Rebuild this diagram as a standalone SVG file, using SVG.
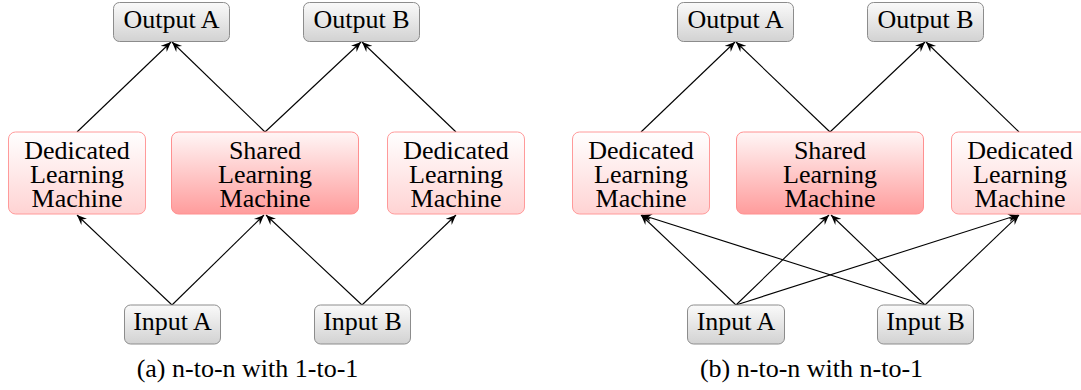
<svg xmlns="http://www.w3.org/2000/svg" width="1081" height="390" viewBox="0 0 1081 390">
  <defs>
    <linearGradient id="gGray" x1="0" y1="0" x2="0" y2="1">
      <stop offset="0" stop-color="#fafafa"/>
      <stop offset="1" stop-color="#d2d2d2"/>
    </linearGradient>
    <linearGradient id="gDed" x1="0" y1="0" x2="0" y2="1">
      <stop offset="0" stop-color="#ffffff"/>
      <stop offset="1" stop-color="#ffd3d3"/>
    </linearGradient>
    <linearGradient id="gShared" x1="0" y1="0" x2="0" y2="1">
      <stop offset="0" stop-color="#fff6f6"/>
      <stop offset="1" stop-color="#ff9c9c"/>
    </linearGradient>
    <marker id="arrow" viewBox="-10 -5 11 10" refX="0" refY="0" markerWidth="11" markerHeight="10" markerUnits="userSpaceOnUse" orient="auto">
      <path d="M0,0 L-10,-4.2 L-6.5,0 L-10,4.2 Z" fill="#000"/>
    </marker>
  </defs>
  <style>
    .io { fill: url(#gGray); stroke: #8c8c8c; stroke-width: 1; }
    .ded { fill: url(#gDed); stroke: #ff9a9a; stroke-width: 1; }
    .sh { fill: url(#gShared); stroke: #ff9090; stroke-width: 1; }
    .t { font-family: "Liberation Serif", "Times New Roman", Times, Tinos, "Noto Serif", "DejaVu Serif", FreeSerif, "Nimbus Roman", serif; font-size: 26px; fill: #000; text-anchor: middle; }
    .edge { stroke: #000; stroke-width: 1.1; fill: none; marker-end: url(#arrow); }
  </style>

  <!-- Panel (a): n-to-n with 1-to-1 -->
  <g id="a-connectors">
    <line class="edge" x1="77" y1="132" x2="171" y2="42"/>
    <line class="edge" x1="265" y1="132" x2="172" y2="42"/>
    <line class="edge" x1="265" y1="132" x2="361" y2="42"/>
    <line class="edge" x1="456" y1="132" x2="362" y2="42"/>
    <line class="edge" x1="172" y1="305" x2="77" y2="215"/>
    <line class="edge" x1="172" y1="305" x2="264" y2="215"/>
    <line class="edge" x1="362" y1="305" x2="266" y2="215"/>
    <line class="edge" x1="362" y1="305" x2="456" y2="215"/>
  </g>
  <g id="a-output-a">
    <rect class="io" x="113.5" y="2.5" width="116" height="39" rx="6"/>
    <text class="t" x="171.5" y="28">Output A</text>
  </g>
  <g id="a-output-b">
    <rect class="io" x="303.5" y="2.5" width="116" height="39" rx="6"/>
    <text class="t" x="361.5" y="28">Output B</text>
  </g>
  <g id="a-dedicated-left">
    <rect class="ded" x="8.5" y="132" width="137" height="82" rx="7"/>
    <text class="t" x="77" y="159">Dedicated</text>
    <text class="t" x="77" y="183">Learning</text>
    <text class="t" x="77" y="207">Machine</text>
  </g>
  <g id="a-shared">
    <rect class="sh" x="171.5" y="132" width="187" height="82" rx="7"/>
    <text class="t" x="265" y="159">Shared</text>
    <text class="t" x="265" y="183">Learning</text>
    <text class="t" x="265" y="207">Machine</text>
  </g>
  <g id="a-dedicated-right">
    <rect class="ded" x="387.5" y="132" width="137" height="82" rx="7"/>
    <text class="t" x="456" y="159">Dedicated</text>
    <text class="t" x="456" y="183">Learning</text>
    <text class="t" x="456" y="207">Machine</text>
  </g>
  <g id="a-input-a">
    <rect class="io" x="124.5" y="305" width="96" height="39" rx="6"/>
    <text class="t" x="172.5" y="330">Input A</text>
  </g>
  <g id="a-input-b">
    <rect class="io" x="314.5" y="305" width="96" height="39" rx="6"/>
    <text class="t" x="362.5" y="330">Input B</text>
  </g>
  <text class="t" id="a-caption" x="247.5" y="377">(a) n-to-n with 1-to-1</text>

  <!-- Panel (b): n-to-n with n-to-1 -->
  <g id="b-connectors">
    <line class="edge" x1="641" y1="132" x2="735" y2="42"/>
    <line class="edge" x1="830" y1="132" x2="736" y2="42"/>
    <line class="edge" x1="830" y1="132" x2="925" y2="42"/>
    <line class="edge" x1="1019" y1="132" x2="926" y2="42"/>
    <line class="edge" x1="736" y1="305" x2="641" y2="215"/>
    <line class="edge" x1="736" y1="305" x2="829" y2="215"/>
    <line class="edge" x1="736" y1="305" x2="1018" y2="215"/>
    <line class="edge" x1="925" y1="305" x2="642" y2="215"/>
    <line class="edge" x1="925" y1="305" x2="831" y2="215"/>
    <line class="edge" x1="925" y1="305" x2="1019" y2="215"/>
  </g>
  <g id="b-output-a">
    <rect class="io" x="677.5" y="2.5" width="116" height="39" rx="6"/>
    <text class="t" x="735.5" y="28">Output A</text>
  </g>
  <g id="b-output-b">
    <rect class="io" x="867.5" y="2.5" width="116" height="39" rx="6"/>
    <text class="t" x="925.5" y="28">Output B</text>
  </g>
  <g id="b-dedicated-left">
    <rect class="ded" x="572.5" y="132" width="137" height="82" rx="7"/>
    <text class="t" x="641" y="159">Dedicated</text>
    <text class="t" x="641" y="183">Learning</text>
    <text class="t" x="641" y="207">Machine</text>
  </g>
  <g id="b-shared">
    <rect class="sh" x="736.5" y="132" width="187" height="82" rx="7"/>
    <text class="t" x="830" y="159">Shared</text>
    <text class="t" x="830" y="183">Learning</text>
    <text class="t" x="830" y="207">Machine</text>
  </g>
  <g id="b-dedicated-right">
    <rect class="ded" x="951.5" y="132" width="137" height="82" rx="7"/>
    <text class="t" x="1020" y="159">Dedicated</text>
    <text class="t" x="1020" y="183">Learning</text>
    <text class="t" x="1020" y="207">Machine</text>
  </g>
  <g id="b-input-a">
    <rect class="io" x="687.5" y="305" width="97" height="39" rx="6"/>
    <text class="t" x="736" y="330">Input A</text>
  </g>
  <g id="b-input-b">
    <rect class="io" x="877.5" y="305" width="96" height="39" rx="6"/>
    <text class="t" x="925.5" y="330">Input B</text>
  </g>
  <text class="t" id="b-caption" x="811.5" y="377">(b) n-to-n with n-to-1</text>
</svg>
